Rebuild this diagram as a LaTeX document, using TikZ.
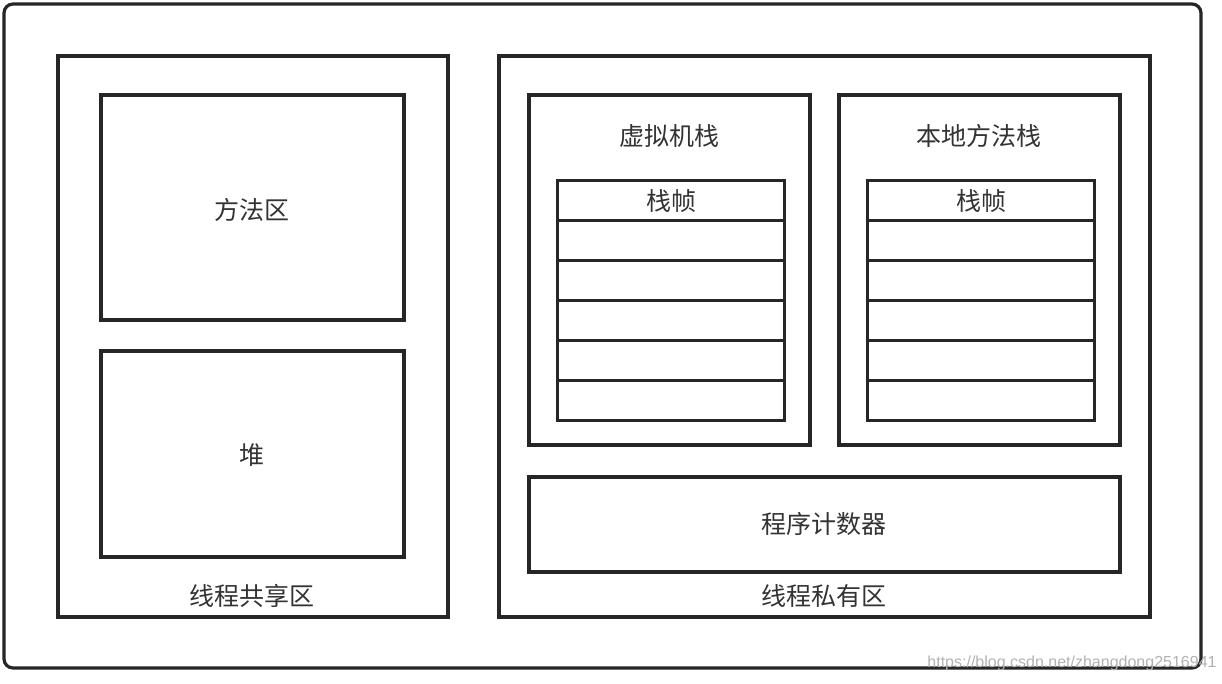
\documentclass[tikz,border=0pt]{standalone}
\usepackage{fontspec}
\newfontfamily\cjk{Noto Sans CJK SC}
\begin{document}
\begin{tikzpicture}[x=1pt,y=-1pt,
  box/.style={draw=black!85,line width=3.2pt},
  lbl/.style={font=\cjk\fontsize{25}{28}\selectfont,text=black!80,inner sep=0pt},
  framebox/.style={draw=black!85,line width=3.2pt,minimum width=227pt,minimum height=40pt,inner sep=0pt,anchor=north west},
  wm/.style={font=\fontspec{Liberation Sans}\fontsize{16}{18}\selectfont,text=black!30,inner sep=0pt}]
\useasboundingbox (0,0) rectangle (1222,684);
\fill[white] (0,0) rectangle (1222,684);
% outer frame
\draw[box,rounded corners=9pt] (4,4) rectangle (1201,668);
% shared area
\draw[box] (58,56) rectangle (448,617);
\draw[box] (101,95) rectangle (404,320);
\draw[box] (101,351) rectangle (404,557);
\node[lbl] (ma) at (252,210) {方法区};
\node[lbl] (heap) at (252,455) {堆};
\node[lbl] (shared) at (252,596) {线程共享区};
% private area
\draw[box] (499,56) rectangle (1150,617);
\draw[box] (529,95) rectangle (810,445);
\draw[box] (839,95) rectangle (1120,445);
\node[lbl] (vms) at (669,136) {虚拟机栈};
\node[lbl] (nms) at (979,136) {本地方法栈};
\foreach \i in {0,...,5}{
  \node[framebox] (a\i) at (556,179+40*\i) {};
  \node[framebox] (b\i) at (866,179+40*\i) {};
}
\node[lbl] (fa) at (a0.center) {栈帧};
\node[lbl] (fb) at (b0.center) {栈帧};
\draw[box] (529,477) rectangle (1120,572);
\node[lbl] (pc) at (824,524) {程序计数器};
\node[lbl] (priv) at (824,596) {线程私有区};
\node[wm] (url) at (1072,663) {https://blog.csdn.net/zhangdong2516941};
\end{tikzpicture}
\end{document}
